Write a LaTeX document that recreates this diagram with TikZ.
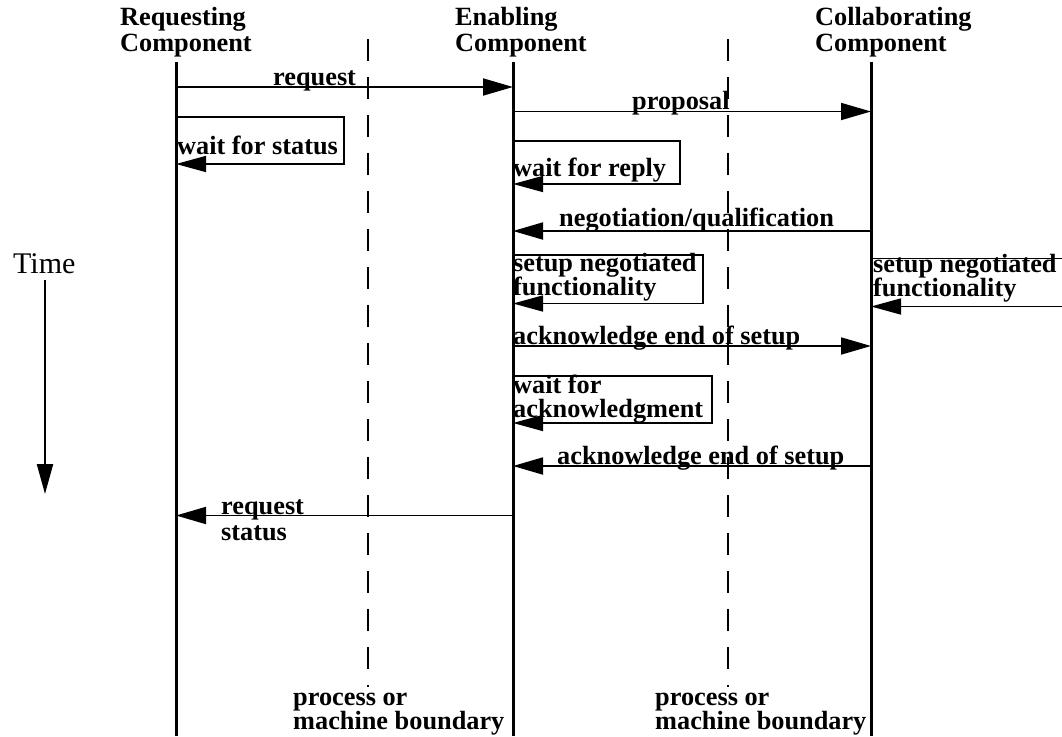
\documentclass[tikz,border=0pt]{standalone}
\usepackage{fontspec}
\setmainfont{Liberation Serif}
\usetikzlibrary{arrows.meta}
\begin{document}
\begin{tikzpicture}[x=1pt,y=-1pt,
  lbl/.style={font=\bfseries\fontsize{26.3}{24}\selectfont, inner sep=0pt, anchor=base west},
  life/.style={line width=3pt},
  msg/.style={line width=1.8pt, -{Triangle[length=30pt,width=17pt]}},
  selfmsg/.style={line width=1.5pt, -{Triangle[length=30pt,width=16pt]}},
  bound/.style={line width=1.5pt, dash pattern=on 22pt off 16pt}]
\useasboundingbox (0,0) rectangle (1062,736);

% headers
\node[lbl] (hr1) at (120,25) {Requesting};
\node[lbl] (hr2) at (120,51.5) {Component};
\node[lbl] (he1) at (455,25) {Enabling};
\node[lbl] (he2) at (455,51.5) {Component};
\node[lbl] (hc1) at (815,25) {Collaborating};
\node[lbl] (hc2) at (815,51.5) {Component};

% lifelines
\coordinate (rt) at (176,62); \coordinate (rb) at (176,736);
\coordinate (et) at (513,62); \coordinate (eb) at (513,736);
\coordinate (ct) at (871,62); \coordinate (cb) at (871,736);
\draw[life] (rt) -- (rb);
\draw[life] (et) -- (eb);
\draw[life] (ct) -- (cb);

% boundaries
\coordinate (b1t) at (368,39); \coordinate (b1b) at (368,687);
\coordinate (b2t) at (728,39); \coordinate (b2b) at (728,687);
\draw[bound] (b1t) -- (b1b);
\draw[bound] (b2t) -- (b2b);

% request
\coordinate (m1a) at (176,87); \coordinate (m1b) at (513,87);
\draw[msg] (m1a) -- (m1b);
\node[lbl] (l1) at (273,85) {request};

% proposal
\coordinate (m2a) at (513,111.5); \coordinate (m2b) at (871,111.5);
\draw[msg] (m2a) -- (m2b);
\node[lbl] (l2) at (632,109) {proposal};

% wait for status
\coordinate (s1a) at (176,117); \coordinate (s1b) at (344,117);
\coordinate (s1c) at (344,164); \coordinate (s1d) at (176,164);
\draw[selfmsg] (s1a) -- (s1b) -- (s1c) -- (s1d);
\node[lbl] (ls1) at (177,154.5) {wait for status};

% wait for reply
\coordinate (s2a) at (513,141); \coordinate (s2b) at (680,141);
\coordinate (s2c) at (680,184); \coordinate (s2d) at (513,184);
\draw[selfmsg] (s2a) -- (s2b) -- (s2c) -- (s2d);
\node[lbl] (ls2) at (513,176.5) {wait for reply};

% negotiation
\coordinate (m3a) at (871,231); \coordinate (m3b) at (513,231);
\draw[msg] (m3a) -- (m3b);
\node[lbl] (l3) at (559,226) {negotiation/qualification};

% setup negotiated (enabling)
\coordinate (s3a) at (513,255); \coordinate (s3b) at (703,255);
\coordinate (s3c) at (703,303.5); \coordinate (s3d) at (513,303.5);
\draw[selfmsg] (s3a) -- (s3b) -- (s3c) -- (s3d);
\node[lbl] (ls3a) at (513,271) {setup negotiated};
\node[lbl] (ls3b) at (513,295) {functionality};

% setup negotiated (collaborating)
\coordinate (s4a) at (871,258.5); \coordinate (s4b) at (1066,258.5);
\coordinate (s4c) at (1066,306.5); \coordinate (s4d) at (871,306.5);
\draw[line width=1.5pt] (s4a) -- (s4b);
\draw[selfmsg] (s4c) -- (s4d);
\node[lbl] (ls4a) at (873,272) {setup negotiated};
\node[lbl] (ls4b) at (873,296) {functionality};

% acknowledge end of setup ->
\coordinate (m4a) at (513,346); \coordinate (m4b) at (871,346);
\draw[msg] (m4a) -- (m4b);
\node[lbl] (l4) at (513,344) {acknowledge end of setup};

% wait for acknowledgment
\coordinate (s5a) at (513,376); \coordinate (s5b) at (712,376);
\coordinate (s5c) at (712,423); \coordinate (s5d) at (513,423);
\draw[selfmsg] (s5a) -- (s5b) -- (s5c) -- (s5d);
\node[lbl] (ls5a) at (513,393) {wait for};
\node[lbl] (ls5b) at (513,417.5) {acknowledgment};

% acknowledge end of setup <-
\coordinate (m5a) at (871,466); \coordinate (m5b) at (513,466);
\draw[msg] (m5a) -- (m5b);
\node[lbl] (l5) at (557,464) {acknowledge end of setup};

% request status
\coordinate (m6a) at (513,515.5); \coordinate (m6b) at (176,515.5);
\draw[msg] (m6a) -- (m6b);
\node[lbl] (l6a) at (221,514) {request};
\node[lbl] (l6b) at (221,540.5) {status};

% boundary labels
\node[lbl] (p1a) at (293,705) {process or};
\node[lbl] (p1b) at (293,729.5) {machine boundary};
\node[lbl] (p2a) at (655,705) {process or};
\node[lbl] (p2b) at (655,729.5) {machine boundary};

% time
\node[font=\fontsize{30}{32}\selectfont, inner sep=0pt, anchor=base west] (time) at (13,273) {Time};
\coordinate (tt) at (45,280); \coordinate (tb) at (45,494);
\draw[line width=2.2pt, -{Triangle[length=30pt,width=16pt]}] (tt) -- (tb);
\end{tikzpicture}
\end{document}
